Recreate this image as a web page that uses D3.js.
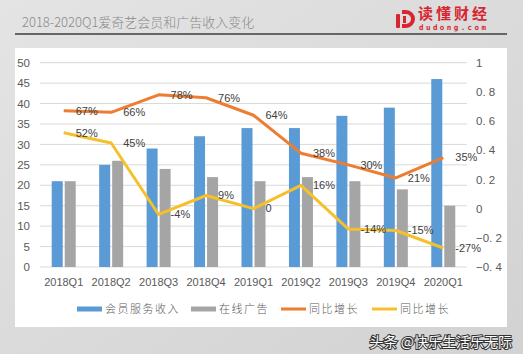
<!DOCTYPE html>
<html>
<head>
<meta charset="utf-8">
<script src="https://cdn.jsdelivr.net/npm/d3@7"></script>
<style>
  body { margin: 0; background: #dcdcdc; }
  svg { display: block; }
</style>
</head>
<body>
<script>
// Chart data
const quarters = ["2018Q1", "2018Q2", "2018Q3", "2018Q4", "2019Q1", "2019Q2", "2019Q3", "2019Q4", "2020Q1"];
const memberRevenue = [21, 25, 29, 32, 34, 34, 37, 39, 46];
const adRevenue = [21, 26, 24, 22, 21, 22, 21, 19, 15];
const memberGrowth = [0.67, 0.66, 0.78, 0.76, 0.64, 0.38, 0.30, 0.21, 0.35];
const adGrowth = [0.52, 0.45, -0.04, 0.09, 0, 0.16, -0.14, -0.15, -0.27];
const leftTicks = [0, 5, 10, 15, 20, 25, 30, 35, 40, 45, 50];
const rightTicks = [-0.4, -0.2, 0, 0.2, 0.4, 0.6, 0.8, 1];
const legendNames = ["会员服务收入", "在线广告", "同比增长", "同比增长"];

const width = 523, height = 354;
const colors = { member: "#5b9bd5", ad: "#a5a5a5", mg: "#ed7d31", ag: "#f5c02c" };

const svg = d3.select("body")
    .append("svg")
    .attr("width", width)
    .attr("height", height);

// Grey page background + white panel
const bg = svg.append("defs").append("linearGradient")
    .attr("id", "bg").attr("x1", 0).attr("y1", 0).attr("x2", 1).attr("y2", 1);
bg.append("stop").attr("offset", 0).attr("stop-color", "#e4e4e4");
bg.append("stop").attr("offset", 1).attr("stop-color", "#d2d2d2");
svg.append("rect").attr("width", width).attr("height", height).attr("fill", "url(#bg)");
svg.append("rect").attr("x", 15).attr("y", 48).attr("width", 492).attr("height", 279).attr("fill", "#ffffff");

// Header
svg.append("text")
    .attr("x", 22).attr("y", 27)
    .attr("font-family", "'Noto Sans CJK SC'")
    .attr("font-weight", 300)
    .attr("font-size", 13)
    .attr("fill", "#8a8a8a")
    .text("2018-2020Q1爱奇艺会员和广告收入变化");
svg.append("rect").attr("x", 15).attr("y", 33).attr("width", 492).attr("height", 2).attr("fill", "#666666");

// Logo
const logo = svg.append("g").attr("fill", "#d7262f");
logo.append("rect").attr("x", 396).attr("y", 14).attr("width", 4).attr("height", 14).attr("rx", 1);
logo.append("path")
    .attr("d", "M402,10 h4 a9,9 0 0 1 0,18 h-4 v-4 h4 a5,5 0 0 0 0,-10 h-4 z");
logo.append("rect").attr("x", 403).attr("y", 16).attr("width", 3).attr("height", 7);
logo.append("text")
    .attr("x", 418).attr("y", 19)
    .attr("font-family", "'Noto Sans CJK SC'").attr("font-weight", 700).attr("font-size", 15)
    .attr("textLength", 69)
    .text("读懂财经");
logo.append("text")
    .attr("x", 419).attr("y", 30)
    .attr("font-family", "'DejaVu Sans Mono'").attr("font-weight", 700).attr("font-size", 7.5)
    .attr("textLength", 67)
    .text("dudong.com");

// Scales
const plot = { left: 40, right: 467, top: 62.7, bottom: 267 };
const x = d3.scaleBand().domain(quarters).range([plot.left, plot.right]);
const yL = d3.scaleLinear().domain([0, 50]).range([plot.bottom, plot.top]);
const yR = d3.scaleLinear().domain([-0.4, 1]).range([plot.bottom, plot.top]);
const barW = 11, barGap = 2;

// Gridlines
svg.append("g").selectAll("line")
    .data(leftTicks)
    .join("line")
    .attr("x1", plot.left).attr("x2", plot.right)
    .attr("y1", d => yL(d)).attr("y2", d => yL(d))
    .attr("stroke", "#d9d9d9").attr("stroke-width", 1);

// Axes
const axisFont = "'Liberation Sans', Arial, sans-serif";
const leftAxis = svg.append("g")
    .attr("transform", `translate(${plot.left - 10},0)`)
    .call(d3.axisLeft(yL).tickValues(leftTicks).tickSize(0).tickPadding(0));
const rightAxis = svg.append("g")
    .attr("transform", `translate(${plot.right + 9},0)`)
    .call(d3.axisRight(yR).tickValues(rightTicks).tickSize(0).tickPadding(0)
        .tickFormat(d => {
            const s = d3.format("~g")(Math.round(d * 10) / 10);
            return s.replace(".", ". ");
        }));
const bottomAxis = svg.append("g")
    .attr("transform", `translate(0,${plot.bottom + 15})`)
    .call(d3.axisBottom(x).tickSize(0).tickPadding(0));
[leftAxis, rightAxis, bottomAxis].forEach(a => {
    a.select(".domain").remove();
    a.selectAll("text")
        .attr("font-family", axisFont)
        .attr("font-size", 11.5)
        .attr("fill", "#595959");
});
bottomAxis.selectAll("text").attr("dy", "0.32em").attr("font-size", 11);

// Bars
svg.append("g").selectAll("rect")
    .data(memberRevenue)
    .join("rect")
    .attr("x", (d, i) => x(quarters[i]) + x.bandwidth() / 2 - barW - barGap / 2)
    .attr("y", d => yL(d))
    .attr("width", barW)
    .attr("height", d => yL(0) - yL(d))
    .attr("fill", colors.member);
svg.append("g").selectAll("rect")
    .data(adRevenue)
    .join("rect")
    .attr("x", (d, i) => x(quarters[i]) + x.bandwidth() / 2 + barGap / 2)
    .attr("y", d => yL(d))
    .attr("width", barW)
    .attr("height", d => yL(0) - yL(d))
    .attr("fill", colors.ad);

// Growth lines with labels to the right of each point
const cx = i => x(quarters[i]) + x.bandwidth() / 2;
function drawLine(values, color) {
    const line = d3.line()
        .x((d, i) => cx(i))
        .y(d => yR(d));
    svg.append("path")
        .datum(values)
        .attr("d", line)
        .attr("fill", "none")
        .attr("stroke", color)
        .attr("stroke-width", 3)
        .attr("stroke-linejoin", "round");
    svg.append("g").selectAll("text")
        .data(values)
        .join("text")
        .attr("x", (d, i) => cx(i) + 12)
        .attr("y", d => yR(d))
        .attr("dy", "0.35em")
        .attr("font-family", axisFont)
        .attr("font-size", 11)
        .attr("fill", "#404040")
        .text(d => d === 0 ? "0" : Math.round(d * 100) + "%");
}
drawLine(memberGrowth, colors.mg);
drawLine(adGrowth, colors.ag);

// Legend
const legendItems = [
    { name: legendNames[0], color: colors.member, x: 77, thick: 5 },
    { name: legendNames[1], color: colors.ad, x: 191, thick: 5 },
    { name: legendNames[2], color: colors.mg, x: 281, thick: 3 },
    { name: legendNames[3], color: colors.ag, x: 372, thick: 3 }
];
const legend = svg.append("g").selectAll("g")
    .data(legendItems)
    .join("g")
    .attr("transform", d => `translate(${d.x},309)`);
legend.append("rect")
    .attr("x", 0).attr("y", d => -d.thick / 2)
    .attr("width", 25).attr("height", d => d.thick)
    .attr("fill", d => d.color);
legend.append("text")
    .attr("x", 28).attr("y", 0).attr("dy", "0.35em")
    .attr("font-family", "'Noto Sans CJK SC'")
    .attr("font-weight", 300)
    .attr("font-size", 11)
    .attr("letter-spacing", 1.5)
    .attr("fill", "#595959")
    .text(d => d.name);

// Watermark
svg.append("text")
    .attr("x", 512).attr("y", 347)
    .attr("text-anchor", "end")
    .attr("font-family", "'Noto Sans CJK SC'")
    .attr("font-size", 14)
    .attr("fill", "#ffffff")
    .attr("stroke", "#333333")
    .attr("stroke-width", 2)
    .attr("paint-order", "stroke")
    .text("头条 @快乐生活乐无际");
</script>
</body>
</html>
